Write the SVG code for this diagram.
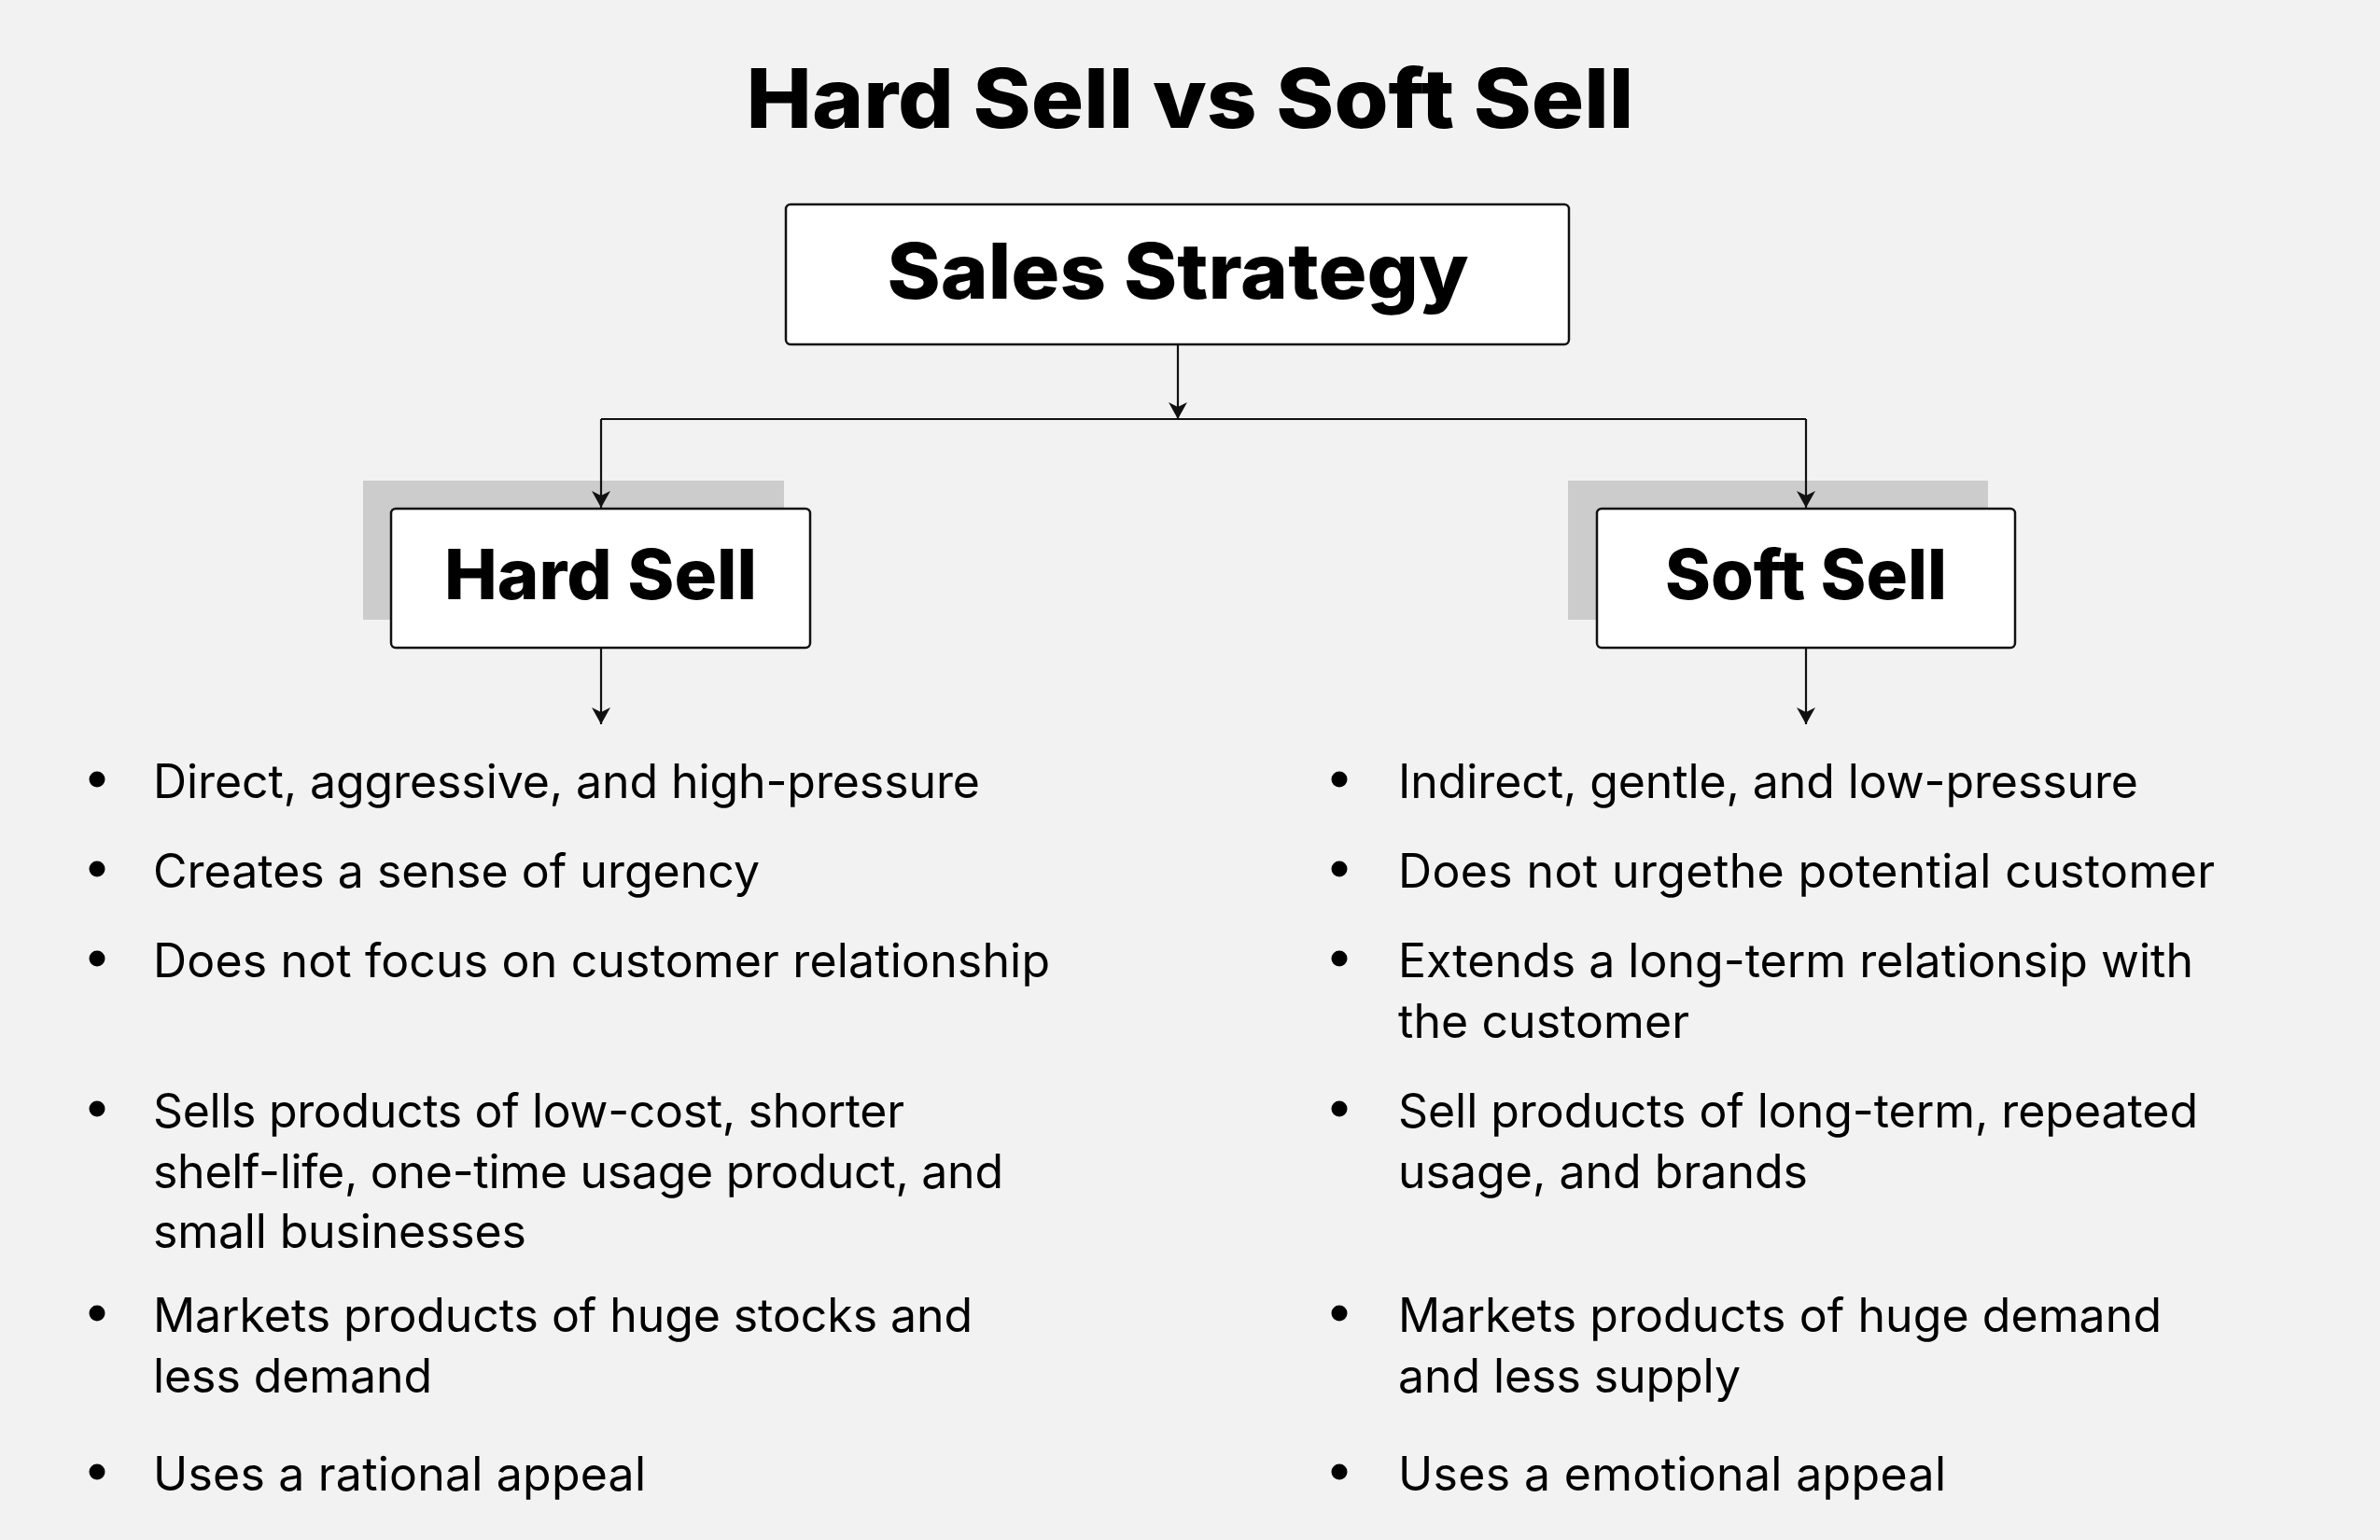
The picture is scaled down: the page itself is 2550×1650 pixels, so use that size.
<svg xmlns="http://www.w3.org/2000/svg" width="2550" height="1650" viewBox="0 0 2550 1650">
<defs>
<style>
.bg{fill:#f2f2f2}
.shadow{fill:#cccccc}
.box{fill:#ffffff;stroke:#111111;stroke-width:2.5}
.title{font-family:Inter,"Liberation Sans",sans-serif;font-weight:800;fill:#000;text-anchor:middle}
.body{font-family:Inter,"Liberation Sans",sans-serif;font-weight:400;font-size:50px;fill:#000}
.dot{fill:#000}
.conn{fill:none;stroke:#111;stroke-width:2.2}
</style>
<marker id="arr" viewBox="0 0 18 20" refX="18" refY="10" markerWidth="18" markerHeight="20" markerUnits="userSpaceOnUse" orient="auto">
<path d="M0,0 L18,10 L0,20 L5,10 Z" fill="#111"/>
</marker>
</defs>
<rect class="bg" x="0" y="0" width="2550" height="1650"/>

<g id="title">
<text class="title" x="1275" y="137" font-size="88" textLength="951" lengthAdjust="spacingAndGlyphs">Hard Sell vs Soft Sell</text>
</g>

<g id="sales-strategy">
<rect class="box" x="842" y="219" width="839" height="150" rx="5"/>
<text class="title" x="1262" y="320" font-size="82" textLength="623" lengthAdjust="spacingAndGlyphs">Sales Strategy</text>
</g>

<g id="hard-sell">
<rect class="shadow" x="389" y="515" width="451" height="149"/>
<rect class="box" x="419" y="545" width="449" height="149" rx="5"/>
<text class="title" x="643.5" y="642" font-size="74" textLength="335" lengthAdjust="spacingAndGlyphs">Hard Sell</text>
</g>

<g id="soft-sell">
<rect class="shadow" x="1680" y="515" width="450" height="149"/>
<rect class="box" x="1711" y="545" width="448" height="149" rx="5"/>
<text class="title" x="1935" y="642" font-size="74" textLength="302" lengthAdjust="spacingAndGlyphs">Soft Sell</text>
</g>

<g id="hard-sell-list">
<circle class="dot" cx="104" cy="835" r="8.5"/>
<text class="body" x="164" y="855" textLength="886">Direct, aggressive, and high-pressure</text>
<circle class="dot" cx="104" cy="931" r="8.5"/>
<text class="body" x="164" y="951" textLength="650">Creates a sense of urgency</text>
<circle class="dot" cx="104" cy="1027" r="8.5"/>
<text class="body" x="164" y="1047" textLength="961">Does not focus on customer relationship</text>
<circle class="dot" cx="104" cy="1188" r="8.5"/>
<text class="body" x="164" y="1208" textLength="805">Sells products of low-cost, shorter</text>
<text class="body" x="164" y="1273" textLength="911">shelf-life, one-time usage product, and</text>
<text class="body" x="164" y="1337" textLength="400">small businesses</text>
<circle class="dot" cx="104" cy="1407" r="8.5"/>
<text class="body" x="164" y="1427" textLength="878">Markets products of huge stocks and</text>
<text class="body" x="164" y="1492" textLength="299">less demand</text>
<circle class="dot" cx="104" cy="1577" r="8.5"/>
<text class="body" x="164" y="1597" textLength="528">Uses a rational appeal</text>
</g>

<g id="soft-sell-list">
<circle class="dot" cx="1435" cy="835" r="8.5"/>
<text class="body" x="1498" y="855" textLength="793">Indirect, gentle, and low-pressure</text>
<circle class="dot" cx="1435" cy="931" r="8.5"/>
<text class="body" x="1498" y="951" textLength="875">Does not urgethe potential customer</text>
<circle class="dot" cx="1435" cy="1027" r="8.5"/>
<text class="body" x="1498" y="1047" textLength="852">Extends a long-term relationsip with</text>
<text class="body" x="1498" y="1112" textLength="312">the customer</text>
<circle class="dot" cx="1435" cy="1188" r="8.5"/>
<text class="body" x="1498" y="1208" textLength="857">Sell products of long-term, repeated</text>
<text class="body" x="1498" y="1273" textLength="439">usage, and brands</text>
<circle class="dot" cx="1435" cy="1407" r="8.5"/>
<text class="body" x="1498" y="1427" textLength="818">Markets products of huge demand</text>
<text class="body" x="1498" y="1492" textLength="367">and less supply</text>
<circle class="dot" cx="1435" cy="1577" r="8.5"/>
<text class="body" x="1498" y="1597" textLength="587">Uses a emotional appeal</text>
</g>

<g id="connectors">
<path class="conn" d="M1262,369 L1262,449" marker-end="url(#arr)"/>
<path class="conn" d="M644,449 L1935,449"/>
<path class="conn" d="M644,449 L644,544" marker-end="url(#arr)"/>
<path class="conn" d="M1935,449 L1935,544" marker-end="url(#arr)"/>
<path class="conn" d="M644,694 L644,776" marker-end="url(#arr)"/>
<path class="conn" d="M1935,694 L1935,776" marker-end="url(#arr)"/>
</g>
</svg>
